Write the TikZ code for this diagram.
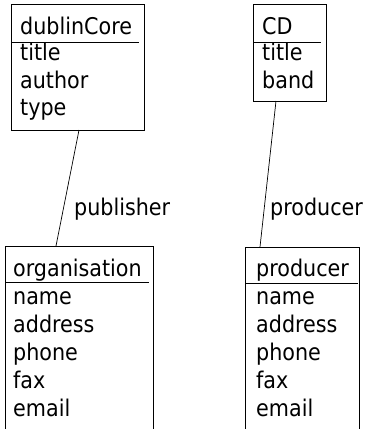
\documentclass[tikz,border=0pt]{standalone}
\usepackage{fontspec}
\setmainfont{DejaVu Sans Condensed}
\begin{document}
\begin{tikzpicture}[x=1pt,y=-1pt,
  box/.style={draw,line width=0.9pt,inner sep=0pt,outer sep=0pt,anchor=north west},
  txt/.style={inner sep=0pt,anchor=base west,font=\fontsize{23}{27}\selectfont},
  rule/.style={line width=0.9pt},
  link/.style={line width=0.7pt}]
\clip (0,0) rectangle (365,429);
% boxes
\node[box,minimum width=133pt,minimum height=126pt] (dc) at (11,4) {};
\node[box,minimum width=73pt,minimum height=97pt] (cd) at (253,4) {};
\node[box,minimum width=148pt,minimum height=200pt] (org) at (5,246) {};
\node[box,minimum width=114pt,minimum height=200pt] (prod) at (245,247) {};
% dublinCore
\node[txt] (dcH) at (20,34) {dublinCore};
\draw[rule] (dc.west |- 0,42) -- (139,42);
\node[txt] (dc1) at (20,60.5) {title};
\node[txt] (dc2) at (20,88) {author};
\node[txt] (dc3) at (20,115.5) {type};
% CD
\node[txt] (cdH) at (262,34) {CD};
\draw[rule] (cd.west |- 0,42) -- (321,42);
\node[txt] (cd1) at (262,60.5) {title};
\node[txt] (cd2) at (262,88) {band};
% organisation
\node[txt] (orgH) at (13,276) {organisation};
\draw[rule] (org.west |- 0,282) -- (149,282);
\node[txt] (o1) at (13,304) {name};
\node[txt] (o2) at (13,332) {address};
\node[txt] (o3) at (13,360) {phone};
\node[txt] (o4) at (13,388) {fax};
\node[txt] (o5) at (13,416) {email};
% producer
\node[txt] (prH) at (256,276) {producer};
\draw[rule] (prod.west |- 0,283) -- (358,283);
\node[txt] (p1) at (256,304) {name};
\node[txt] (p2) at (256,332) {address};
\node[txt] (p3) at (256,360) {phone};
\node[txt] (p4) at (256,388) {fax};
\node[txt] (p5) at (256,416) {email};
% connectors
\coordinate (dcb) at (79,130);
\coordinate (orgt) at (56,246);
\coordinate (cdb) at (276,101);
\coordinate (prodt) at (260,247);
\draw[link] (dcb) -- (orgt);
\draw[link] (cdb) -- (prodt);
\node[txt] (lpub) at (74,215) {publisher};
\node[txt] (lprod) at (270,215) {producer};
\end{tikzpicture}
\end{document}
